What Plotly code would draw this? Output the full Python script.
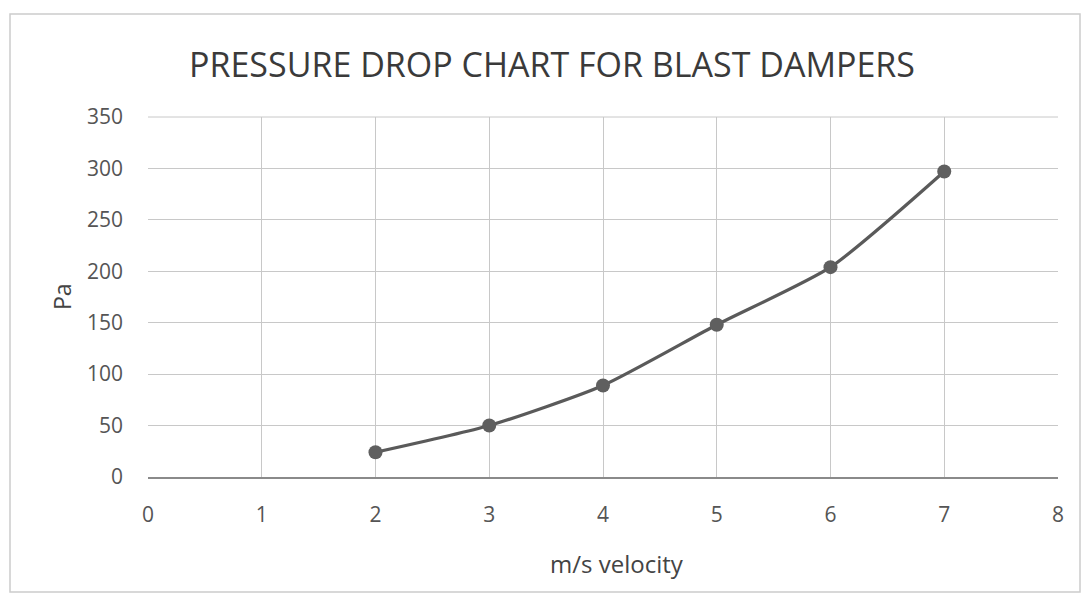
import plotly.graph_objects as go

velocity = [2, 3, 4, 5, 6, 7]
pressure = [24, 50, 89, 148, 204, 297]

title_text = "PRESSURE DROP CHART FOR BLAST DAMPERS"
x_title = "m/s velocity"
y_title = "Pa"

font_family = "Open Sans, Liberation Sans, sans-serif"

W, H = 1073, 585  # page adds an 8px body margin
L, T = 140, 109
PW, PH = 910, 360

# outer chart frame (page pixels)
fx0, fy0, fx1, fy1 = 10, 14, 1080, 592

fig = go.Figure()
fig.add_trace(go.Scatter(
    x=velocity, y=pressure, mode="lines+markers",
    line=dict(color="#5a5a5a", width=3.2, shape="spline", smoothing=0.6),
    marker=dict(color="#5f5f5f", size=14),
    showlegend=False,
))

fig.update_layout(
    width=W, height=H,
    paper_bgcolor="white", plot_bgcolor="white",
    margin=dict(l=L, r=W - L - PW, t=T, b=H - T - PH),
    title=dict(text=title_text, x=0.507, xanchor="center", y=1 - 57 / H, yanchor="middle",
               font=dict(family=font_family, size=34, color="#3a3a3a")),
    font=dict(family=font_family, color="#555555"),
    shapes=[dict(type="rect", xref="paper", yref="paper",
                 x0=(fx0 - 8 - L) / PW, x1=(fx1 - 8 - L) / PW,
                 y0=(T + PH - (fy1 - 8)) / PH, y1=(T + PH - (fy0 - 8)) / PH,
                 line=dict(color="#cccccc", width=1.5), layer="below"),
            dict(type="line", xref="paper", yref="paper", x0=0, x1=1, y0=1, y1=1,
                 line=dict(color="#c8c8c8", width=1))],
    annotations=[
        dict(text=x_title, xref="paper", yref="paper", x=0.515, y=(477 - 563) / PH,
             xanchor="center", yanchor="middle", showarrow=False,
             font=dict(size=24, color="#444444")),
        dict(text=y_title, xref="paper", yref="paper", x=(62 - 148) / PW, y=0.5,
             xanchor="center", yanchor="middle", showarrow=False, textangle=-90,
             font=dict(size=23, color="#444444")),
    ],
)
fig.update_xaxes(
    range=[0, 8], dtick=1, tick0=0,
    showgrid=True, gridcolor="#c8c8c8", gridwidth=1,
    showline=True, linecolor="#8a8a8a", linewidth=1.5, mirror=False,
    zeroline=False,
    tickfont=dict(size=21, color="#555555"),
    ticklabelstandoff=18,
)
fig.update_yaxes(
    range=[0, 350], dtick=50, tick0=0,
    showgrid=True, gridcolor="#c8c8c8", gridwidth=1,
    showline=False, zeroline=False,
    tickfont=dict(size=21, color="#555555"),
    ticklabelstandoff=24,
)

fig.write_html("out.html")
